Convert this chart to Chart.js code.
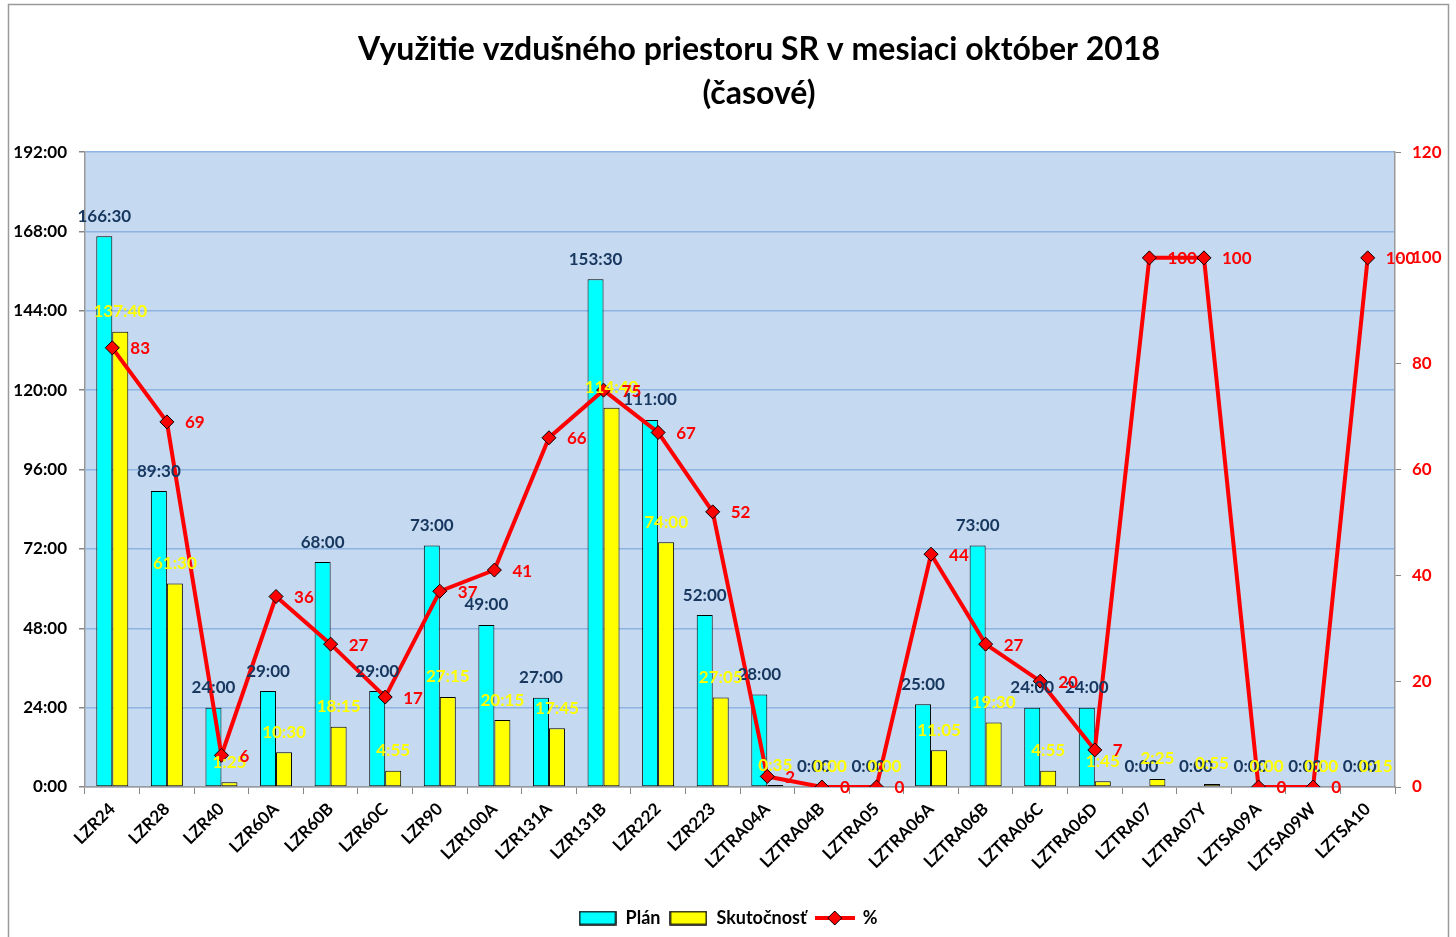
<!DOCTYPE html>
<html>
<head>
<meta charset="utf-8">
<script src="https://cdn.jsdelivr.net/npm/chart.js@4.4.1/dist/chart.umd.min.js"></script>
<style>
body { margin: 0; background: #fff; }
#chartBox { width: 1456px; height: 937px; }
</style>
</head>
<body>
<div id="chartBox"><canvas id="myChart" width="1456" height="937"></canvas></div>
<script>
var names = ["LZR24", "LZR28", "LZR40", "LZR60A", "LZR60B", "LZR60C", "LZR90", "LZR100A", "LZR131A", "LZR131B", "LZR222", "LZR223",
    "LZTRA04A", "LZTRA04B", "LZTRA05", "LZTRA06A", "LZTRA06B", "LZTRA06C", "LZTRA06D", "LZTRA07", "LZTRA07Y", "LZTSA09A", "LZTSA09W", "LZTSA10"];
var planTimes = ["166:30", "89:30", "24:00", "29:00", "68:00", "29:00", "73:00", "49:00", "27:00", "153:30", "111:00", "52:00",
    "28:00", "0:00", "0:00", "25:00", "73:00", "24:00", "24:00", "0:00", "0:00", "0:00", "0:00", "0:00"];
var realTimes = ["137:40", "61:30", "1:25", "10:30", "18:15", "4:55", "27:15", "20:15", "17:45", "114:40", "74:00", "27:05",
    "0:35", "0:00", "0:00", "11:05", "19:30", "4:55", "1:45", "2:25", "0:55", "0:00", "0:00", "0:15"];
var percents = [83, 69, 6, 36, 27, 17, 37, 41, 66, 75, 67, 52, 2, 0, 0, 44, 27, 20, 7, 100, 100, 0, 0, 100];

var seriesNames = ["Plán", "Skutočnosť", "%"];
var titleLines = ["Využitie vzdušného priestoru SR v mesiaci október 2018", "(časové)"];

function toHours(t) {
    var p = t.split(":");
    return Number(p[0]) + Number(p[1]) / 60;
}

// legend icons
function boxIcon(color) {
    var c = document.createElement("canvas");
    c.width = 38; c.height = 15;
    var g = c.getContext("2d");
    g.fillStyle = color;
    g.fillRect(1, 1, 36, 13);
    g.strokeStyle = "#000";
    g.lineWidth = 1.5;
    g.strokeRect(1, 1, 36, 13);
    return c;
}
function lineIcon() {
    var c = document.createElement("canvas");
    c.width = 40; c.height = 18;
    var g = c.getContext("2d");
    g.strokeStyle = "#FF0000";
    g.lineWidth = 4;
    g.beginPath(); g.moveTo(0, 9); g.lineTo(40, 9); g.stroke();
    g.fillStyle = "#FF0000";
    g.strokeStyle = "#000";
    g.lineWidth = 1;
    g.beginPath(); g.moveTo(20, 2); g.lineTo(27, 9); g.lineTo(20, 16); g.lineTo(13, 9); g.closePath();
    g.fill(); g.stroke();
    return c;
}
var icons = [boxIcon("#00FFFF"), boxIcon("#FFFF00"), lineIcon()];

Chart.defaults.font.family = "Lato";

const backPlugin = {
    id: "backPlugin",
    beforeDraw: function(chart) {
        var ctx = chart.ctx, a = chart.chartArea;
        ctx.save();
        ctx.fillStyle = "#fff";
        ctx.fillRect(0, 0, chart.width, chart.height);
        ctx.strokeStyle = "#9a9a9a";
        ctx.lineWidth = 1.5;
        ctx.strokeRect(8.5, 4.5, 1440, 940);
        ctx.fillStyle = "#C5D9F1";
        ctx.fillRect(a.left, a.top, a.right - a.left, a.bottom - a.top);
        ctx.restore();
    },
    afterLayout: function(chart) {
        if (chart.titleBlock) {
            chart.titleBlock.left = 70;
            chart.titleBlock.right = 1448;
        }
    }
};

const labelPlugin = {
    id: "labelPlugin",
    afterDatasetsDraw: function(chart) {
        var ctx = chart.ctx;
        ctx.save();
        ctx.font = "bold 17px Lato";
        ctx.textBaseline = "middle";
        ctx.textAlign = "center";
        var barTexts = [planTimes, realTimes];
        var barColors = ["#17375E", "#FFFF00"];
        for (var d = 0; d < 2; d++) {
            ctx.fillStyle = barColors[d];
            chart.getDatasetMeta(d).data.forEach(function(bar, i) {
                ctx.fillText(barTexts[d][i], bar.x, bar.y - 20);
            });
        }
        ctx.fillStyle = "#FF0000";
        ctx.textAlign = "left";
        chart.getDatasetMeta(2).data.forEach(function(pt, i) {
            ctx.fillText(String(percents[i]), pt.x + 18, pt.y + 1);
        });
        ctx.restore();
    }
};

const data = {
    labels: names,
    datasets: [{
        label: seriesNames[0],
        data: planTimes.map(toHours),
        backgroundColor: "#00FFFF",
        borderColor: "#000",
        borderWidth: 1,
        borderSkipped: false,
        yAxisID: "y",
        order: 1
    }, {
        label: seriesNames[1],
        data: realTimes.map(toHours),
        backgroundColor: "#FFFF00",
        borderColor: "#000",
        borderWidth: 1,
        borderSkipped: false,
        yAxisID: "y",
        order: 1
    }, {
        type: "line",
        label: seriesNames[2],
        data: percents,
        borderColor: "#FF0000",
        backgroundColor: "#FF0000",
        borderWidth: 4,
        pointStyle: "rectRot",
        pointRadius: 7,
        pointBorderColor: "#000",
        pointBorderWidth: 1,
        pointBackgroundColor: "#FF0000",
        yAxisID: "y1",
        order: 0
    }]
};

const config = {
    type: "bar",
    data: data,
    options: {
        responsive: false,
        animation: false,
        layout: { padding: { left: 0, right: 0, top: 0, bottom: 0 } },
        datasets: {
            bar: { categoryPercentage: 0.586, barPercentage: 1.0 }
        },
        plugins: {
            tooltip: { enabled: false },
            title: {
                display: true,
                text: titleLines,
                color: "#000",
                font: { size: 32, weight: "bold", lineHeight: 1.36 },
                padding: { top: 28, bottom: 37 }
            },
            legend: {
                position: "bottom",
                labels: {
                    usePointStyle: true,
                    pointStyleWidth: 38,
                    color: "#000",
                    font: { size: 18, weight: "bold" },
                    padding: 9,
                    sort: function(a, b) { return a.datasetIndex - b.datasetIndex; },
                    generateLabels: function(chart) {
                        var items = Chart.defaults.plugins.legend.labels.generateLabels(chart);
                        items.forEach(function(it) { it.pointStyle = icons[it.datasetIndex]; });
                        return items;
                    }
                }
            }
        },
        scales: {
            x: {
                grid: { offset: true, drawOnChartArea: false, tickLength: 7, color: "#868686" },
                border: { color: "#9a9a9a", width: 1.5 },
                ticks: {
                    color: "#000",
                    padding: 5,
                    font: { size: 17, weight: "bold" },
                    minRotation: 45,
                    maxRotation: 45,
                    autoSkip: false
                },
                afterFit: function(scale) { scale.height = 113; }
            },
            y: {
                position: "left",
                min: 0,
                max: 192,
                ticks: {
                    stepSize: 24,
                    color: "#000",
                    padding: 12,
                    font: { size: 17, weight: "bold" },
                    callback: function(v) { return v + ":00"; }
                },
                grid: { color: "#8DB4E2", lineWidth: 1.5, tickColor: "#868686", tickLength: 6 },
                border: { color: "#9a9a9a", width: 1.5 },
                afterFit: function(scale) { scale.width = 85; }
            },
            y1: {
                position: "right",
                min: 0,
                max: 120,
                ticks: {
                    stepSize: 20,
                    color: "#FF0000",
                    padding: 11,
                    font: { size: 17, weight: "bold" }
                },
                grid: { drawOnChartArea: false, color: "#868686", tickLength: 6 },
                border: { color: "#9a9a9a", width: 1.5 },
                afterFit: function(scale) { scale.width = 61; }
            }
        }
    },
    plugins: [backPlugin, labelPlugin]
};

const myChart = new Chart(document.getElementById("myChart"), config);
</script>
</body>
</html>
